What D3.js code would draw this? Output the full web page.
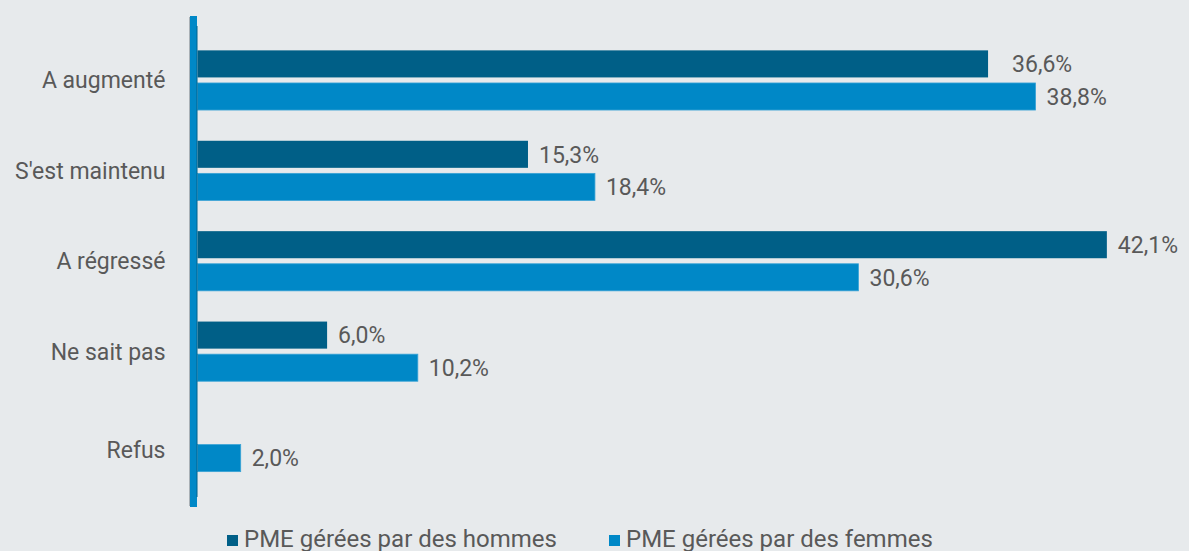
<!DOCTYPE html>
<html>
<head>
<meta charset="utf-8">
<script src="https://cdn.jsdelivr.net/npm/d3@7"></script>
<style>
  html, body { margin: 0; padding: 0; background: #e7eaec; }
  svg { display: block; }
  text { font-family: Roboto, "Noto Sans", sans-serif; fill: #595959; }
</style>
</head>
<body>
<svg id="chart" width="1189" height="551"></svg>
<script>
// Evolution du chiffre d'affaires des PME, selon le sexe du dirigeant (%)
const categories = ["A augmenté", "S'est maintenu", "A régressé", "Ne sait pas", "Refus"];
const seriesNames = ["PME gérées par des hommes", "PME gérées par des femmes"];
const hommes = [36.6, 15.3, 42.1, 6.0, null];
const femmes = [38.8, 18.4, 30.6, 10.2, 2.0];
const seriesColors = ["#005f87", "#0088c7"];

const svg = d3.select("#chart");

const x = d3.scaleLinear().domain([0, 45]).range([197.5, 197.5 + 45 * 21.6]);
const y0 = d3.scaleBand().domain(categories).range([35, 487])
  .paddingInner(0.34).paddingOuter(0.17);
const y1 = d3.scaleBand().domain(seriesNames).range([0, y0.bandwidth()]).paddingInner(0.17);

const rows = categories.map((c, i) => ({
  cat: c,
  vals: [
    { s: seriesNames[0], v: hommes[i], color: seriesColors[0] },
    { s: seriesNames[1], v: femmes[i], color: seriesColors[1] }
  ].filter(d => d.v !== null)
}));

const fmt = v => d3.format(".1f")(v).replace(".", ",") + "%";

const groups = svg.append("g").selectAll("g").data(rows).join("g")
  .attr("transform", d => `translate(0,${y0(d.cat)})`);

groups.selectAll("rect").data(d => d.vals).join("rect")
  .attr("x", x(0))
  .attr("y", d => y1(d.s))
  .attr("width", d => x(d.v) - x(0))
  .attr("height", y1.bandwidth())
  .attr("fill", d => d.color)
  .attr("stroke", d => d.s === seriesNames[1] ? "#3aa3d6" : "none")
  .attr("stroke-width", 0.8);

// the top label sits a little further from its bar
const labelGap = (d, cat) => (cat === categories[0] && d.s === seriesNames[0]) ? 24 : 11;

groups.each(function (row) {
  d3.select(this).selectAll("text.val").data(row.vals).join("text")
    .attr("class", "val")
    .attr("x", d => x(d.v) + labelGap(d, row.cat))
    .attr("y", d => y1(d.s) + y1.bandwidth() / 2)
    .attr("dy", "0.36em")
    .attr("font-size", 23)
    .text(d => fmt(d.v));
});

// Vertical category axis with a shaded edge
svg.append("line")
  .attr("x1", 189.5).attr("x2", 189.5).attr("y1", 17).attr("y2", 506)
  .attr("stroke", "#a9b0b5").attr("stroke-width", 1);

const axis = d3.axisLeft(y0).tickSize(0).tickPadding(0);
const gAxis = svg.append("g").attr("transform", "translate(193.5,0)").call(axis);
gAxis.select(".domain").attr("d", "M0,16V507").attr("stroke", "#0088c7").attr("stroke-width", 7);
gAxis.selectAll(".tick text")
  .attr("x", -28)
  .attr("y", d => d === "Refus" ? 8 : 0)
  .attr("dy", "0.36em")
  .attr("font-size", 23)
  .attr("font-family", "Roboto, 'Noto Sans', sans-serif")
  .attr("fill", "#595959");

svg.append("line")
  .attr("x1", 197).attr("x2", 197).attr("y1", 26).attr("y2", 497)
  .attr("stroke", "#00628c").attr("stroke-width", 1);

// Legend
const legendX = [227, 609];
const legend = svg.append("g").selectAll("g").data(seriesNames).join("g")
  .attr("transform", (d, i) => `translate(${legendX[i]},535)`);
legend.append("rect").attr("width", 11).attr("height", 11)
  .attr("fill", (d, i) => seriesColors[i]);
legend.append("text").attr("x", 17).attr("y", 12).attr("font-size", 24).text(d => d);
</script>
</body>
</html>
